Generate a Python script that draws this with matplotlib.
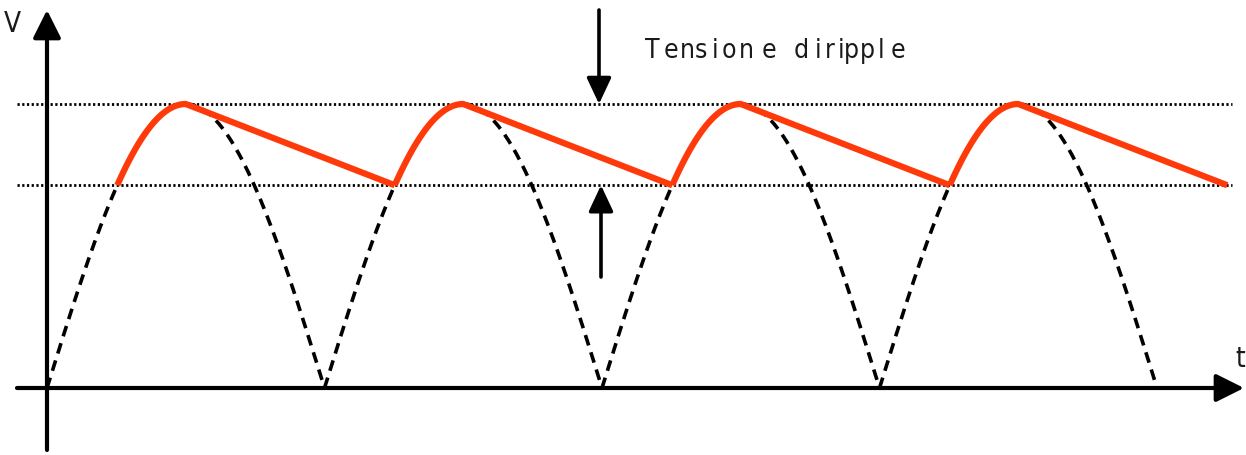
import numpy as np
import matplotlib
matplotlib.use("Agg")
import matplotlib.pyplot as plt

# ---- data (normalised units: one arch = 1 time unit, peak = 1 volt unit) ----
arch_starts = [0.0, 1.0, 2.0, 3.0]      # start of each rectified half-wave
peak_v = 1.0                             # peak voltage
ripple_min_v = 0.714                     # lower level of the ripple
title_chars = list("Tensione diripple")
title_x_px = [652, 671, 687, 701, 715, 729, 746, 769, None, 801, 818, 830, 841, 851, 867, 881, 898]

# pixel mapping of the reference (for limits only)
X0_PX, PERIOD_PX = 47.0, 277.5
Y0_PX, PEAK_PX = 388.0, 284.0
W, H = 1246, 455

def tx(px):
    return (px - X0_PX) / PERIOD_PX

def vy(py):
    return (Y0_PX - py) / PEAK_PX

fig = plt.figure(figsize=(W / 100, H / 100), dpi=100)
ax = fig.add_axes([0, 0, 1, 1])
ax.set_xlim(tx(0), tx(W))
ax.set_ylim(vy(H), vy(0))
ax.axis("off")

RED = "#FF3A0A"

# dotted reference lines
for lvl in (peak_v, ripple_min_v):
    ax.plot([tx(17), tx(1232)], [lvl, lvl], color="black", lw=2.0,
            linestyle=(0, (0.8, 0.9)), zorder=2)

# dashed rectified sine
for s in arch_starts:
    t = np.linspace(s, s + 1, 200)
    ax.plot(t, peak_v * np.abs(np.sin(np.pi * (t - s))), color="black", lw=2.6,
            linestyle=(0, (3.0, 2.0)), zorder=3)

# red ripple waveform
a = np.arcsin(ripple_min_v / peak_v) / np.pi
for s in arch_starts:
    tc = np.linspace(s + a, s + 0.5, 100)
    vc = peak_v * np.sin(np.pi * (tc - s))
    td = [s + 0.5, s + 1 + a]
    vd = [peak_v, ripple_min_v]
    ax.plot(np.concatenate([tc, td]), np.concatenate([vc, vd]), color=RED,
            lw=4.5, solid_capstyle="butt", solid_joinstyle="round", zorder=4)

# axes arrows
arrow_kw = dict(arrowstyle="-|>,head_length=1.7,head_width=0.85", lw=3,
                color="black", shrinkA=0, shrinkB=0)
ax.annotate("", xy=(tx(47), vy(10)), xytext=(tx(47), vy(450)),
            arrowprops=arrow_kw, zorder=5)
ax.annotate("", xy=(tx(1244), 0), xytext=(tx(17), 0),
            arrowprops=arrow_kw, zorder=5)

# ripple arrows
rip_kw = dict(arrowstyle="-|>,head_length=1.6,head_width=0.75", lw=2.6,
              color="black", shrinkA=0, shrinkB=0)
ax.annotate("", xy=(tx(599), peak_v), xytext=(tx(599), vy(10)),
            arrowprops=rip_kw, zorder=5)
ax.annotate("", xy=(tx(601), ripple_min_v), xytext=(tx(601), vy(277)),
            arrowprops=rip_kw, zorder=5)

# labels
fam = ["DejaVu Sans"]
tkw = dict(family=fam, stretch="condensed", ha="center", va="baseline", color="#1a1a1a")
ax.text(tx(12), vy(32), "V", fontsize=20, **tkw)
ax.text(tx(1240), vy(367), "t", fontsize=20, **tkw)
for ch, px in zip(title_chars, title_x_px):
    if px is None or ch == " ":
        continue
    ax.text(tx(px), vy(58), ch, fontsize=19, **tkw)

fig.savefig("out.png", dpi=100)
